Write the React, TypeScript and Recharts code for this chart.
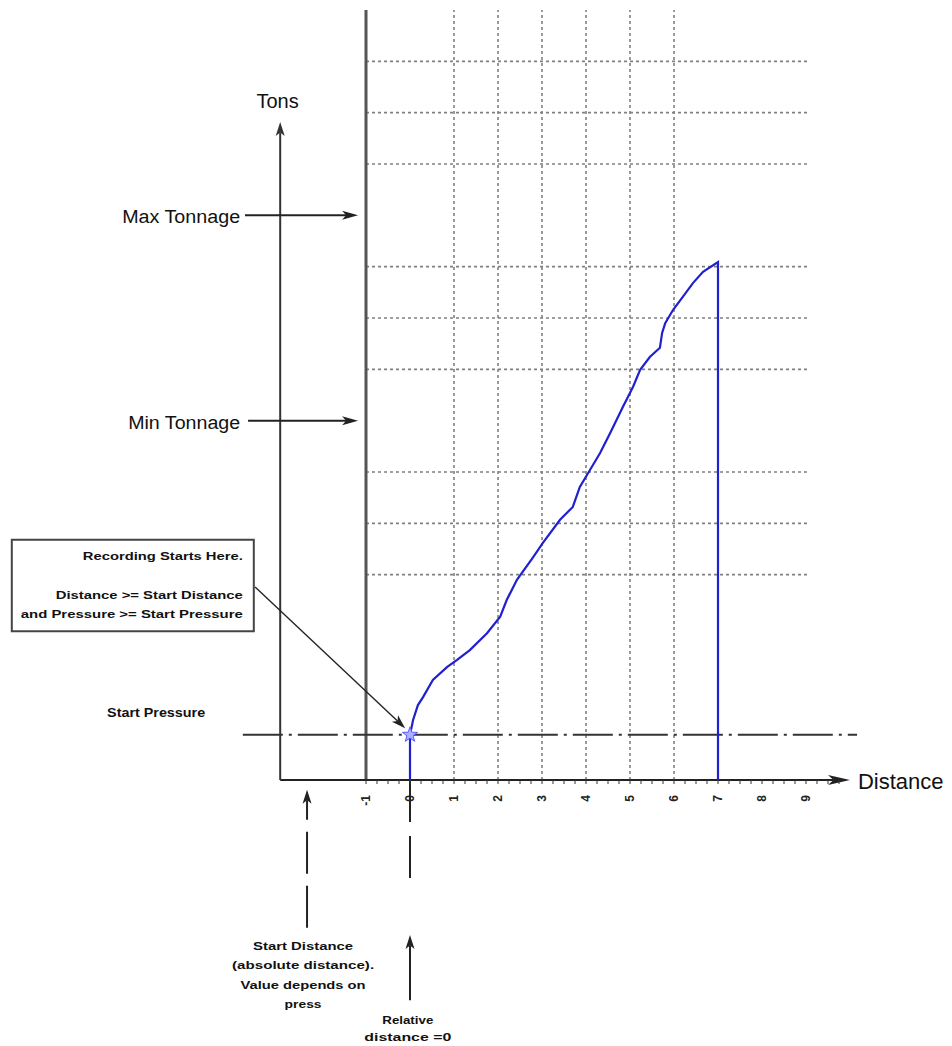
import React from "react"
import {
  ComposedChart,
  Line,
  Scatter,
  XAxis,
  YAxis,
  ReferenceLine,
  ReferenceDot,
  ReferenceArea,
} from "recharts"

// press curve (distance, tons)
const distance = [
  0, 0, 0.07, 0.18, 0.3, 0.52, 0.84, 1.07, 1.36, 1.75, 2.05, 2.2, 2.43, 2.8,
  3.02, 3.41, 3.7, 3.86, 4.09, 4.32, 4.55, 4.84, 5.07, 5.23, 5.45, 5.68, 5.73,
  5.8, 5.98, 6.2, 6.43, 6.66, 7, 7,
]
const tons = [
  0, 0.88, 1.17, 1.46, 1.62, 1.95, 2.2, 2.34, 2.53, 2.86, 3.18, 3.51, 3.9, 4.34,
  4.62, 5.07, 5.32, 5.71, 6.04, 6.37, 6.76, 7.27, 7.66, 7.99, 8.24, 8.42, 8.71,
  8.9, 9.16, 9.41, 9.68, 9.9, 10.09, 0,
]

const xLabels = [-1, 0, 1, 2, 3, 4, 5, 6, 7, 8, 9]
const xGrid = [1, 2, 3, 4, 5, 6]
const yGrid = [4, 5, 6, 8, 9, 10, 12, 13, 14]
const maxTonnage = 11
const minTonnage = 7
const startPressure = 0.88
const startDistance = -2.34

const curve = distance.map((d, i) => ({ distance: d, tons: tons[i] }))
const startPoint = [{ distance: 0, tons: startPressure }]
const minorTicks = xLabels.flatMap((v) => [v, v + 0.25, v + 0.5, v + 0.75])

const FONT = "'Liberation Sans', Arial, Helvetica, sans-serif"
const BLUE = "#2020d0"
const GRID = "#808080"

// line with a filled arrow head at the second point
const arrow =
  (color = "#222", width = 2, dash?: string, head = 14, half = 4.5) =>
  (props: any) => {
    const { x1, y1, x2, y2 } = props
    const a = Math.atan2(y2 - y1, x2 - x1)
    const c = Math.cos(a)
    const s = Math.sin(a)
    const bx = x2 - head * c
    const by = y2 - head * s
    const nx = -s * half
    const ny = c * half
    const mx = x2 - head * 0.75 * c
    const my = y2 - head * 0.75 * s
    return (
      <g>
        <line
          x1={x1}
          y1={y1}
          x2={mx}
          y2={my}
          stroke={color}
          strokeWidth={width}
          strokeDasharray={dash}
        />
        <polygon
          points={`${x2},${y2} ${bx + nx},${by + ny} ${mx},${my} ${bx - nx},${by - ny}`}
          fill={color}
        />
      </g>
    )
  }

// text block placed at a data point (first baseline at the point)
const note =
  (
    lines: string[],
    opt: {
      anchor?: string
      size?: number
      bold?: boolean
      lineH?: number
      widths?: number[]
      color?: string
    } = {}
  ) =>
  (props: any) => {
    const { cx, cy } = props
    const { anchor = "middle", size = 12, bold = false, lineH = 19.5, widths, color = "#111" } = opt
    return (
      <g>
        {lines.map((l, i) => (
          <text
            key={i}
            x={cx}
            y={cy + i * lineH}
            textAnchor={anchor}
            fontFamily={FONT}
            fontSize={size}
            fontWeight={bold ? "bold" : "normal"}
            fill={color}
            textLength={widths ? widths[i] : undefined}
            lengthAdjust={widths ? "spacingAndGlyphs" : undefined}
          >
            {l}
          </text>
        ))}
      </g>
    )
  }

const star = (props: any) => {
  const { cx, cy } = props
  const pts: string[] = []
  for (let i = 0; i < 10; i++) {
    const r = i % 2 === 0 ? 8 : 3.2
    const a = (Math.PI / 5) * i - Math.PI / 2
    pts.push(`${cx + r * Math.cos(a)},${cy + r * Math.sin(a)}`)
  }
  return <polygon points={pts.join(" ")} fill="#aab2ff" stroke="#5a5aff" strokeWidth={1} />
}

const renderTick = (props: any) => {
  const { x, y, payload } = props
  if (!Number.isInteger(payload.value)) return <g />
  return (
    <g transform={`translate(${x},${y + 9}) rotate(-90)`}>
      <text
        x={0}
        y={0}
        dy="0.35em"
        textAnchor="end"
        fontFamily={FONT}
        fontSize={12}
        fontWeight="bold"
        fill="#222"
      >
        {payload.value}
      </text>
    </g>
  )
}

export default function App() {
  return (
    <div style={{ position: "absolute", left: 0, top: 0, width: 952, height: 1046, background: "#fff" }}>
      <ComposedChart
        width={952}
        height={1046}
        data={curve}
        margin={{ top: 10, right: 102, bottom: 236, left: 278 }}
      >
        <XAxis
          dataKey="distance"
          type="number"
          domain={[-3, 10]}
          ticks={minorTicks}
          interval={0}
          axisLine={false}
          tickLine={{ stroke: "#333", strokeWidth: 1 }}
          tickSize={4}
          height={30}
          tick={renderTick}
        />
        <YAxis type="number" domain={[0, 15]} hide width={0} />

        {/* dotted grid, only where the drawing has it */}
        {xGrid.map((v) => (
          <ReferenceLine key={"gx" + v} x={v} stroke={GRID} strokeWidth={1.6} strokeDasharray="3 3" />
        ))}
        {yGrid.map((v) => (
          <ReferenceLine
            key={"gy" + v}
            segment={[
              { x: -1, y: v },
              { x: 9.09, y: v },
            ]}
            stroke={GRID}
            strokeWidth={1.6}
            strokeDasharray="3 3"
          />
        ))}

        <ReferenceLine x={-1} stroke="#555" strokeWidth={3} />

        {/* axes drawn as arrows */}
        <ReferenceLine
          segment={[
            { x: -2.95, y: 0 },
            { x: 10, y: 0 },
          ]}
          ifOverflow="visible"
          shape={arrow("#222", 2, undefined, 22, 5)}
        />
        <ReferenceLine
          segment={[
            { x: -2.95, y: 0 },
            { x: -2.95, y: 12.82 },
          ]}
          ifOverflow="visible"
          shape={arrow("#333", 2, undefined, 14, 4.5)}
        />

        {/* tonnage limits */}
        <ReferenceLine
          segment={[
            { x: -3.75, y: maxTonnage },
            { x: -1.18, y: maxTonnage },
          ]}
          ifOverflow="visible"
          shape={arrow("#222", 2, undefined, 16, 4.5)}
        />
        <ReferenceLine
          segment={[
            { x: -3.68, y: minTonnage },
            { x: -1.18, y: minTonnage },
          ]}
          ifOverflow="visible"
          shape={arrow("#222", 2, undefined, 16, 4.5)}
        />

        {/* start pressure */}
        <ReferenceLine
          segment={[
            { x: -3.8, y: startPressure },
            { x: 10.16, y: startPressure },
          ]}
          ifOverflow="visible"
          stroke="#333"
          strokeWidth={2}
          strokeDasharray="40 6 3 6"
        />

        {/* callout box */}
        <ReferenceArea
          x1={-9.05}
          x2={-3.55}
          y1={2.9}
          y2={4.68}
          ifOverflow="visible"
          fill="#fff"
          fillOpacity={1}
          stroke="#444"
          strokeWidth={2}
        />
        <ReferenceLine
          segment={[
            { x: -3.52, y: 3.76 },
            { x: -0.11, y: 1.01 },
          ]}
          ifOverflow="visible"
          shape={arrow("#222", 1.4, undefined, 14, 4.5)}
        />

        {/* distance markers below the axis */}
        <ReferenceLine
          segment={[
            { x: startDistance, y: -2.88 },
            { x: startDistance, y: -0.19 },
          ]}
          ifOverflow="visible"
          shape={arrow("#222", 2, "42 12", 14, 4.5)}
        />
        <ReferenceLine
          segment={[
            { x: 0, y: 0 },
            { x: 0, y: -1.91 },
          ]}
          ifOverflow="visible"
          stroke="#222"
          strokeWidth={2}
          strokeDasharray="42 14"
        />
        <ReferenceLine
          segment={[
            { x: 0, y: -4.29 },
            { x: 0, y: -3.02 },
          ]}
          ifOverflow="visible"
          shape={arrow("#222", 2, undefined, 14, 4.5)}
        />

        <Line
          dataKey="tons"
          type="linear"
          stroke={BLUE}
          strokeWidth={2.2}
          dot={false}
          isAnimationActive={false}
        />
        <Scatter data={startPoint} dataKey="tons" shape={star} isAnimationActive={false} />

        {/* texts */}
        <ReferenceDot x={-3.01} y={13.09} r={0} ifOverflow="visible" shape={note(["Tons"], { size: 20 })} />
        <ReferenceDot
          x={10.18}
          y={-0.18}
          r={0}
          ifOverflow="visible"
          shape={note(["Distance"], { size: 22, anchor: "start" })}
        />
        <ReferenceDot
          x={-3.86}
          y={10.85}
          r={0}
          ifOverflow="visible"
          shape={note(["Max Tonnage"], { size: 18, anchor: "end", widths: [118] })}
        />
        <ReferenceDot
          x={-3.86}
          y={6.84}
          r={0}
          ifOverflow="visible"
          shape={note(["Min Tonnage"], { size: 18, anchor: "end", widths: [112] })}
        />
        <ReferenceDot
          x={-5.77}
          y={1.23}
          r={0}
          ifOverflow="visible"
          shape={note(["Start Pressure"], { size: 12, bold: true, widths: [98] })}
        />
        <ReferenceDot
          x={-3.8}
          y={4.29}
          r={0}
          ifOverflow="visible"
          shape={note(["Recording Starts Here.", "", "Distance >= Start Distance", "and Pressure >= Start Pressure"], {
            size: 11,
            bold: true,
            anchor: "end",
            lineH: 19.5,
            widths: [160, 0, 187, 222],
          })}
        />
        <ReferenceDot
          x={-2.43}
          y={-3.31}
          r={0}
          ifOverflow="visible"
          shape={note(["Start Distance", "(absolute distance).", "Value depends on", "press"], {
            size: 11,
            bold: true,
            lineH: 19.5,
            widths: [100, 142, 125, 37],
          })}
        />
        <ReferenceDot
          x={-0.05}
          y={-4.75}
          r={0}
          ifOverflow="visible"
          shape={note(["Relative", "distance =0"], {
            size: 11,
            bold: true,
            lineH: 17.5,
            widths: [51, 87],
          })}
        />
      </ComposedChart>
    </div>
  )
}
